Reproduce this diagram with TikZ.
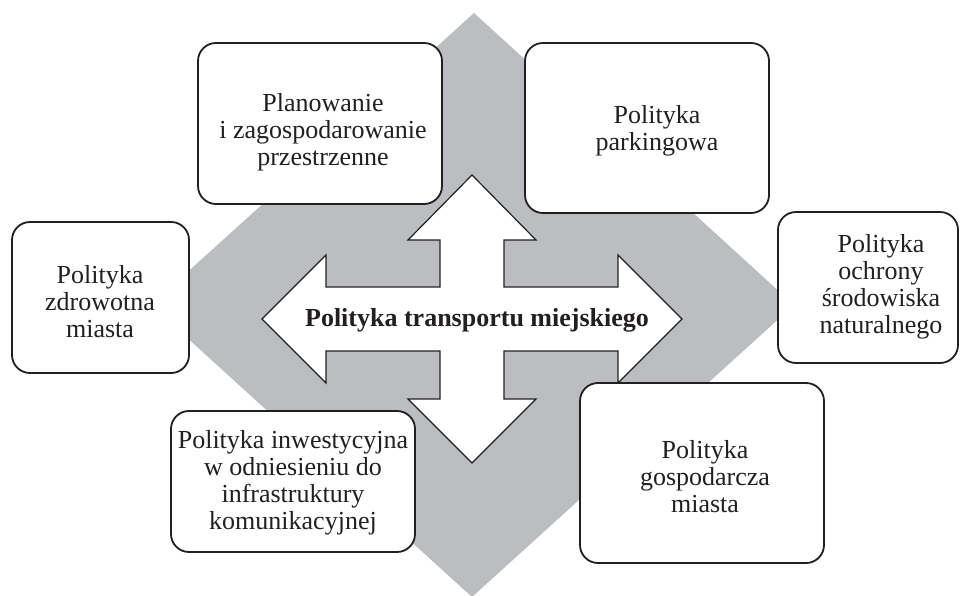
\documentclass[tikz,border=0pt]{standalone}
\usepackage{fontspec}
\setmainfont{Liberation Serif}
\definecolor{ink}{RGB}{35,31,32}
\definecolor{panel}{RGB}{188,189,192}
\begin{document}
\begin{tikzpicture}[x=1pt,y=1pt,
  topic/.style={draw=ink, line width=1.8pt, fill=white, rounded corners=18pt, inner sep=0pt},
  caption/.style={text=ink, font=\fontsize{26}{27}\selectfont, align=center, inner sep=0pt},
  cross/.style={draw=ink, fill=white, line width=1.2pt, line join=miter},
]
\useasboundingbox (0,0) rectangle (960,595);

% grey rhombus behind everything
\fill[panel] (474,582) -- (794,290) -- (472,-2) -- (151,290) -- cycle;

% four-headed arrow
\draw[cross] (472,420) -- (536,355) -- (504,355) -- (504,308) -- (618,308) -- (618,340)
  -- (682,276) -- (618,212) -- (618,244) -- (504,244) -- (504,196) -- (536,196)
  -- (472,132) -- (408,196) -- (440,196) -- (440,244) -- (326,244) -- (326,212)
  -- (262,276) -- (326,340) -- (326,308) -- (440,308) -- (440,355) -- (408,355) -- cycle;
\node[caption, font=\fontsize{26}{27}\selectfont\bfseries] (title) at (477,275) {Polityka transportu miejskiego};

% surrounding boxes
\node[topic, minimum width=244pt, minimum height=161pt] (plan) at (320,471.5) {};
\node[topic, minimum width=244pt, minimum height=170pt] (park) at (647,467) {};
\node[topic, minimum width=177pt, minimum height=151pt] (zdrow) at (100.5,297.5) {};
\node[topic, minimum width=180pt, minimum height=151pt] (ochr) at (868,307.5) {};
\node[topic, minimum width=244pt, minimum height=141pt] (inwest) at (293,113.5) {};
\node[topic, minimum width=244pt, minimum height=180pt] (gosp) at (702,122) {};

% box texts
\node[caption] (planT) at (323,463) {Planowanie\\i zagospodarowanie\\przestrzenne};
\node[caption] (parkT) at (657,464) {Polityka\\parkingowa};
\node[caption] (zdrowT) at (100,293) {Polityka\\zdrowotna\\miasta};
\node[caption] (ochrT) at (881,308) {Polityka\\ochrony\\środowiska\\naturalnego};
\node[caption] (inwestT) at (293,112) {Polityka inwestycyjna\\w odniesieniu do\\infrastruktury\\komunikacyjnej};
\node[caption] (gospT) at (705,118.5) {Polityka\\gospodarcza\\miasta};
\end{tikzpicture}
\end{document}
